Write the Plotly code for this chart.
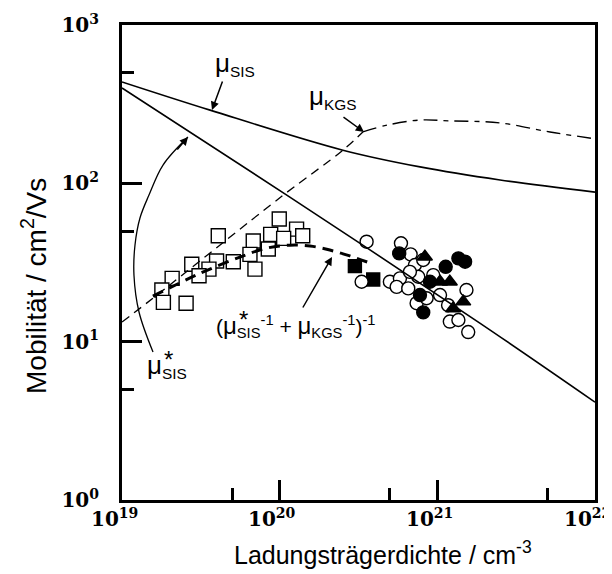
import math
import plotly.graph_objects as go

# ---------------- data ----------------
# model curves
sis_x = [1e19, 3.62e19, 2.52e20, 7.77e20, 2.50e21, 1e22]
sis_y = [437, 290, 162, 127, 105, 88]

sis_star_x = [1e19, 1.16e20, 1.86e21, 1e22]
sis_star_y = [400, 81.9, 13.1, 4.15]

kgs_x = [1e19, 1.57e19, 1.05e20, 2.52e20, 3.37e20, 4.79e20, 7.77e20, 1.20e21, 2.49e21, 5.18e21, 1e22]
kgs_y = [13.3, 18.8, 84, 162, 211, 233, 251, 248, 241, 211, 191]
kgs_split = 4  # dashed before, dash-dot after

comb_x = [1.57e19, 3.13e19, 5.60e19, 8.30e19, 1.16e20, 1.56e20, 2.08e20, 2.79e20, 3.73e20]
comb_y = [19.4, 27.0, 34.2, 39.0, 40.7, 40.2, 37.9, 34.8, 31.4]

# measured data
open_sq_x = [4.08e19, 9.94e19, 1.28e20, 1.40e20, 8.77e19, 1.06e20, 6.80e19, 8.47e19, 6.48e19, 5.08e19,
             3.98e19, 6.97e19, 2.77e19, 3.56e19, 3.08e19, 2.08e19, 1.79e19, 1.83e19, 2.55e19]
open_sq_y = [46.7, 59.5, 51.4, 46.7, 47.6, 44.9, 43.2, 38.5, 35.6, 32.0,
             32.3, 28.7, 30.8, 28.7, 26.1, 25.1, 21.2, 17.7, 17.5]

fill_sq_x = [3.00e20, 3.92e20]
fill_sq_y = [30.0, 24.7]

open_ci_x = [3.56e20, 3.31e20, 5.88e20, 6.77e20, 7.21e20, 5.00e20, 5.79e20, 5.52e20, 6.54e20, 7.57e20,
             6.70e20, 8.14e20, 9.42e20, 7.39e20, 8.55e20, 1.04e21, 1.17e21, 1.53e21, 1.20e21, 1.36e21, 1.57e21]
open_ci_y = [42.8, 23.9, 41.8, 35.6, 30.5, 23.9, 25.1, 22.2, 21.7, 25.7,
             27.6, 32.8, 26.3, 17.5, 18.8, 19.7, 17.0, 21.2, 13.4, 13.7, 11.5]

fill_ci_x = [5.73e20, 1.13e21, 1.36e21, 1.50e21, 7.76e20, 8.14e20, 8.98e20]
fill_ci_y = [36.1, 29.7, 33.6, 32.0, 19.7, 15.3, 23.9]

tri_x = [8.34e20, 1.04e21, 1.20e21, 1.46e21, 1.26e21]
tri_y = [34.4, 23.9, 23.9, 17.9, 16.2]

# arrow guide for mu*_SIS label
guide_x = [1.573e19, 1.282e19, 1.191e19, 1.209e19, 1.300e19, 1.483e19, 1.82e19, 2.62e19]
guide_y = [8.6, 15.4, 26.3, 40.8, 60.4, 84.3, 130.5, 196]

x_ticks = [1e19, 1e20, 1e21, 1e22]
x_ticktext = ["<b>10<sup>19</sup></b>", "<b>10<sup>20</sup></b>", "<b>10<sup>21</sup></b>", "<b>10<sup>22</sup></b>"]
y_ticks = [1, 10, 100, 1000]
y_ticktext = ["<b>10<sup>0</sup></b>", "<b>10<sup>1</sup></b>", "<b>10<sup>2</sup></b>", "<b>10<sup>3</sup></b>"]
x_minor = [5e19, 5e20, 5e21]
y_minor = [5, 50, 500]

# ---------------- figure ----------------
# the page body has an 8px margin, so the figure is made 8px smaller and shifted
OFF = 8
PAGE_W, PAGE_H = 612, 574
PL, PR, PT, PB = 122, 595, 25, 500          # plot box in page pixels
W, H = PAGE_W - OFF, PAGE_H - OFF
L, T = PL - OFF, PT - OFF
R, B = W - (PR - OFF), H - (PB - OFF)
PW, PH = PR - PL, PB - PT

def px(x):
    return (x - PL) / PW

def py(y):
    return (PB - y) / PH

fig = go.Figure()

def markers(x, y, symbol, fill, size):
    fig.add_trace(go.Scatter(x=x, y=y, mode="markers",
                             marker=dict(symbol=symbol, size=size, color=fill,
                                         line=dict(color="black", width=1.4)),
                             hoverinfo="skip"))

markers(open_sq_x, open_sq_y, "square", "white", 14)
markers(fill_sq_x, fill_sq_y, "square", "black", 13)
markers(open_ci_x, open_ci_y, "circle", "white", 13)
markers(fill_ci_x, fill_ci_y, "circle", "black", 13)
markers(tri_x, tri_y, "triangle-up", "black", 13)

def line(x, y, width, dash="solid", shape="spline"):
    fig.add_trace(go.Scatter(x=x, y=y, mode="lines",
                             line=dict(color="black", width=width, dash=dash, shape=shape),
                             hoverinfo="skip"))

line(sis_x, sis_y, 1.6)
line(sis_star_x, sis_star_y, 1.6)
line(kgs_x[:kgs_split + 1], kgs_y[:kgs_split + 1], 1.3, "9px,6px")
line(kgs_x[kgs_split:], kgs_y[kgs_split:], 1.3, "14px,6px,5px,6px")
line(comb_x, comb_y, 3, "11px,7px")
line(guide_x, guide_y, 1.3)

sans = "Liberation Sans"
MU = '<span style="font-size:26px">μ</span>'
MU2 = '<span style="font-size:24px">μ</span>'
ann = []

def text(x, y, s, size=22, **kw):
    ann.append(dict(x=px(x), y=py(y), xref="paper", yref="paper", text=s, showarrow=False,
                    xanchor="center", yanchor="middle",
                    font=dict(family=sans, size=size, color="black"), **kw))

def arrow(x, y, ax, ay):
    ann.append(dict(x=px(x), y=py(y), xref="paper", yref="paper", text="", showarrow=True,
                    ax=ax, ay=ay, arrowhead=2, arrowsize=1.1, arrowwidth=1.5,
                    arrowcolor="black", standoff=0))

text(235, 64, MU + "<sub>SIS</sub>")
text(333, 97, MU + "<sub>KGS</sub>")
text(296, 327, "(" + MU2 + "<sub>SIS</sub><sup>-1</sup> + " + MU2 + "<sub>KGS</sub><sup>-1</sup>)<sup>-1</sup>", size=21)
text(243, 320, "*", size=24)
text(167, 366, MU + "<sub>SIS</sub>")
text(168, 359, "*", size=24)

arrow(212, 110, 11, -30)
arrow(364, 132, -22, -16)
arrow(332, 257, -30, 52)
arrow(188, 137, -12, 14)

# x tick labels placed on the x axis scale (slightly left of each tick, as in the original)
tickfont = dict(family="DejaVu Serif", size=20, color="black")
for v, t in zip(x_ticks, x_ticktext):
    ann.append(dict(x=math.log10(v), y=0, xref="x", yref="paper", text=t, showarrow=False,
                    xanchor="center", yanchor="top", xshift=-8, yshift=-3, font=tickfont))

# axis titles
ann.append(dict(x=px(34), y=py(286), xref="paper", yref="paper", showarrow=False,
                xanchor="center", yanchor="middle",
                text="Mobilität / cm<sup>2</sup>/Vs", textangle=-90,
                font=dict(family=sans, size=28, color="black")))
ann.append(dict(x=px(383), y=py(553), xref="paper", yref="paper", showarrow=False,
                xanchor="center", yanchor="middle",
                text="Ladungsträgerdichte / cm<sup>-3</sup>",
                font=dict(family=sans, size=25, color="black")))

common = dict(type="log", showgrid=False, zeroline=False, showline=True, linewidth=3,
              linecolor="black", mirror=True, ticks="inside", ticklen=20, tickwidth=3,
              tickcolor="black", tickfont=tickfont, automargin=False)

fig.update_layout(
    width=W, height=H, margin=dict(l=L, r=R, t=T, b=B, autoexpand=False),
    paper_bgcolor="white", plot_bgcolor="white", showlegend=False,
    annotations=ann,
    xaxis=dict(range=[19, 22], tickvals=x_ticks, showticklabels=False,
               minor=dict(tickvals=x_minor, ticks="inside", ticklen=12, tickwidth=3, tickcolor="black"),
               **common),
    yaxis=dict(range=[0, 3], tickvals=y_ticks, ticktext=y_ticktext, ticklabelstandoff=16,
               minor=dict(tickvals=y_minor, ticks="inside", ticklen=12, tickwidth=3, tickcolor="black"),
               **common),
)

fig.write_html("out.html", config={"displayModeBar": False})
